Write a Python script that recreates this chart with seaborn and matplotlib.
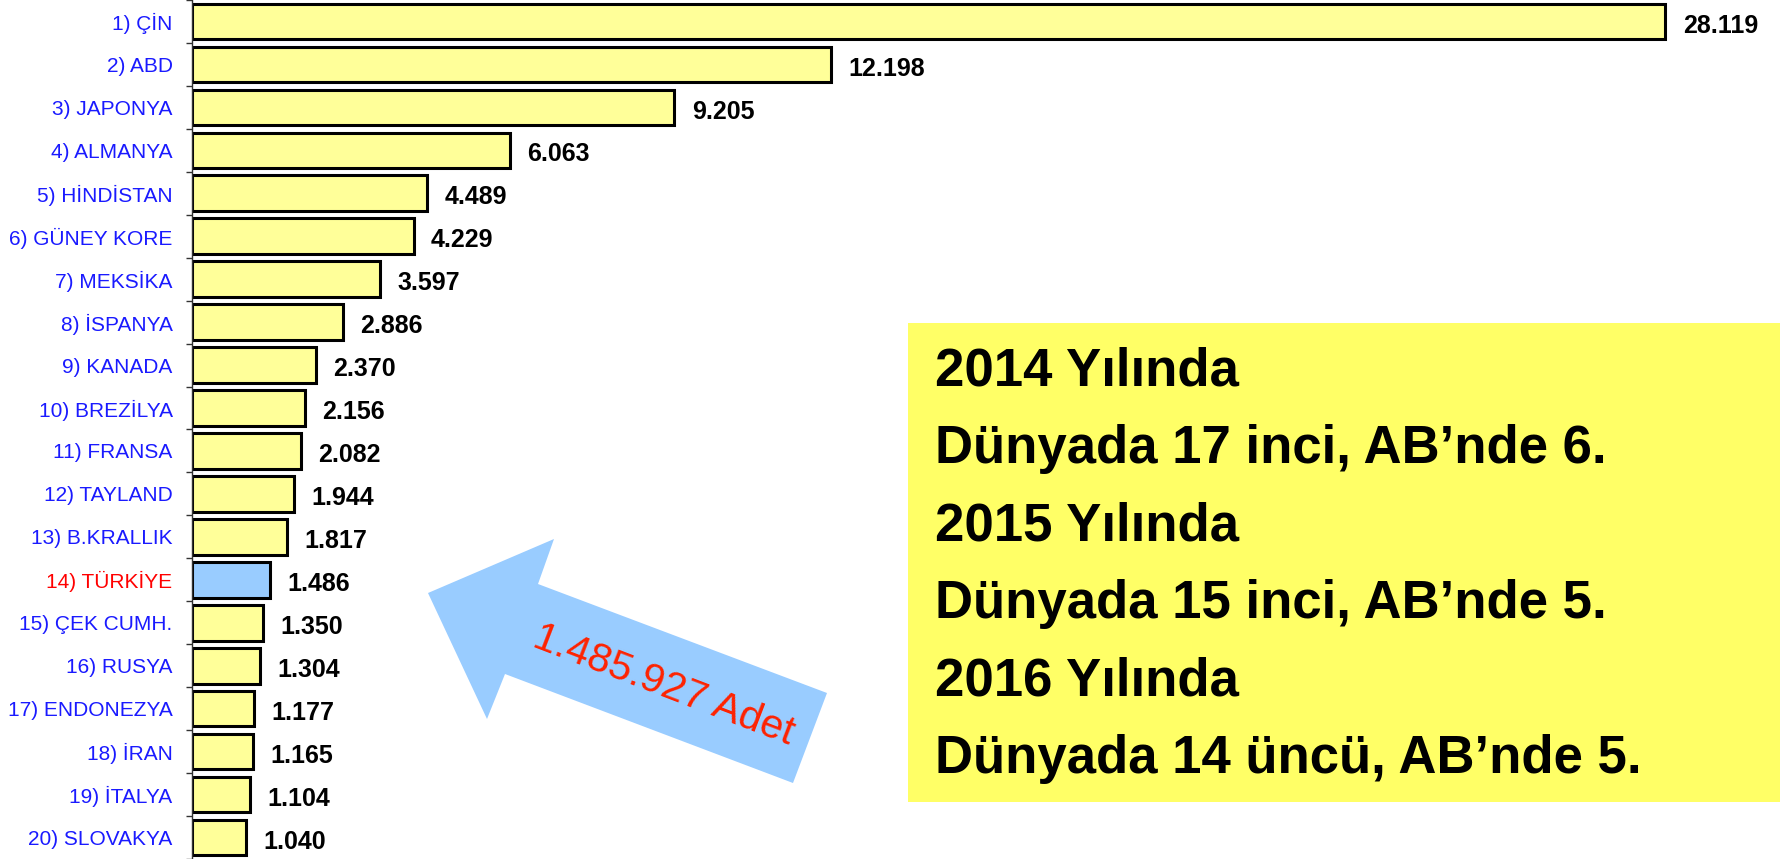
import matplotlib
matplotlib.use('Agg')
import matplotlib.pyplot as plt
import seaborn as sns
import numpy as np
from matplotlib.patches import Polygon, Rectangle

# veriler (bin adet)
ulkeler = ['1) ÇİN', '2) ABD', '3) JAPONYA', '4) ALMANYA', '5) HİNDİSTAN',
           '6) GÜNEY KORE', '7) MEKSİKA', '8) İSPANYA', '9) KANADA', '10) BREZİLYA',
           '11) FRANSA', '12) TAYLAND', '13) B.KRALLIK', '14) TÜRKİYE', '15) ÇEK CUMH.',
           '16) RUSYA', '17) ENDONEZYA', '18) İRAN', '19) İTALYA', '20) SLOVAKYA']
uretim = [28.119, 12.198, 9.205, 6.063, 4.489, 4.229, 3.597, 2.886, 2.370, 2.156,
          2.082, 1.944, 1.817, 1.486, 1.350, 1.304, 1.177, 1.165, 1.104, 1.040]
vurgu = '14) TÜRKİYE'
kutu_satirlar = ['2014 Yılında', 'Dünyada 17 inci, AB’nde 6.',
                 '2015 Yılında', 'Dünyada 15 inci, AB’nde 5.',
                 '2016 Yılında', 'Dünyada 14 üncü, AB’nde 5.']
ok_yazi = '1.485.927 Adet'

W, H = 1781, 859
sns.set_style('white')
plt.rcParams['font.family'] = ['Liberation Sans', 'DejaVu Sans']

fig = plt.figure(figsize=(W / 100, H / 100), dpi=100)
ax = fig.add_axes([192 / W, 0, 1 - 192 / W, 1])
ax.patch.set_alpha(0)

renkler = {u: ('#99CCFF' if u == vurgu else '#FFFF99') for u in ulkeler}
sns.barplot(x=uretim, y=ulkeler, hue=ulkeler, palette=renkler, legend=False,
            orient='h', width=0.83, edgecolor='black', linewidth=2.2,
            saturation=1, ax=ax)

ax.set_xlim(0, (W - 192) / 52.4)
ax.set_ylim(len(ulkeler) - 0.5, -0.5)
ax.set_xlabel('')
ax.set_ylabel('')
ax.set_xticks([])

for s in ['top', 'right', 'bottom']:
    ax.spines[s].set_visible(False)
ax.spines['left'].set_color('#333333')
ax.spines['left'].set_linewidth(1)

# etiketler merkezde, tik çizgileri sınırlarda
ax.tick_params(axis='y', which='major', length=0, pad=14, labelsize=15)
ax.set_yticks(np.arange(len(ulkeler) + 1) - 0.5, minor=True)
ax.tick_params(axis='y', which='minor', length=4, width=1, color='#333333', left=True)
for lbl in ax.get_yticklabels():
    lbl.set_color('red' if lbl.get_text() == vurgu else '#1a1aff')

# değer etiketleri
for i, v in enumerate(uretim):
    ax.annotate(f'{v:.3f}', xy=(v, i), xytext=(12.5, -3), textcoords='offset points',
                ha='left', va='center', fontsize=18, fontweight='bold', color='black')

# sarı kutu
fig.patches.append(Rectangle((908 / W, 1 - 802 / H), 1 - 908 / W, 479 / H,
                             transform=fig.transFigure, facecolor='#FFFF66',
                             edgecolor='none', zorder=2))
for i, satir in enumerate(kutu_satirlar):
    fig.text(935 / W, 1 - (386 + i * 77.3) / H, satir, fontsize=38,
             fontweight='bold', color='black', va='baseline', ha='left', zorder=3)

# mavi ok
ok_px = [(428, 593), (554, 539), (538, 584), (827, 693), (793, 783), (505, 674), (487, 719)]
ok = [(x / W, 1 - y / H) for x, y in ok_px]
fig.patches.append(Polygon(ok, closed=True, transform=fig.transFigure,
                           facecolor='#99CCFF', edgecolor='none', zorder=2))
fig.text(664 / W, 1 - 685 / H, ok_yazi, fontsize=29.5, color='#FF2200',
         rotation=-21, rotation_mode='anchor', ha='center', va='center', zorder=3)

fig.savefig('out.png', dpi=100)
